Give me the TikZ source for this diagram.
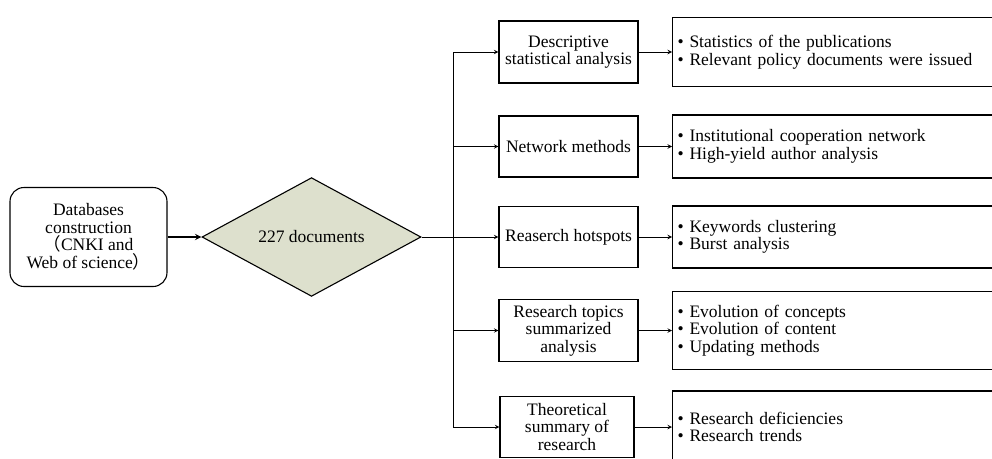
\documentclass[tikz,border=0pt]{standalone}
\usepackage{fontspec}
\setmainfont{Liberation Serif}
\newfontfamily\cjk{Noto Sans CJK SC}
\usepackage{xcolor}
\usetikzlibrary{positioning,shapes.geometric}
\definecolor{docfill}{RGB}{221,224,205}

\begin{document}
\begin{tikzpicture}[
  x=1pt, y=-1pt,
  every node/.style={draw, line width=1.1pt, inner sep=3pt,
    font=\fontsize{17.5pt}{17.5pt}\selectfont},
  dbbox/.style={rounded corners=14pt, align=center,
    minimum width=157pt, minimum height=99pt},
  docs/.style={diamond, fill=docfill, inner sep=0pt,
    minimum width=219pt, minimum height=85pt},
  method/.style={align=center, minimum width=139pt, minimum height=62pt},
  detail/.style={anchor=west, align=left, text width=330pt, inner xsep=5pt},
  arr/.style={->, >=stealth, line width=1pt},
  link/.style={line width=1pt},
]
\useasboundingbox (0,0) rectangle (992,458);

% Left: source and documents
\node (db) [dbbox] at (88.5,237) {Databases\\construction\\{\cjk （}CNKI and\\Web of science{\cjk ）}};
\node (docs) [docs] at (311.5,237) {227 documents};
\draw[arr, line width=1.8pt] (db) -- (docs);

% Trunk
\coordinate (jt) at (453,237);
\coordinate (ttop) at (453,52);
\coordinate (tbot) at (453,427);
\draw[link] (docs) -- (jt);
\draw[link] (ttop) -- (tbot);

% Column 1: methods
\node (desc) [method] at (568.5,52) {Descriptive\\statistical analysis};
\node (net) [method, minimum height=61pt] at (568.5,146.5) {Network methods};
\node (hot) [method, minimum height=61pt] at (568.5,237) {Reaserch hotspots};
\node (topic) [method] at (568.5,330.5) {Research topics\\summarized\\analysis};
\node (theo) [method, minimum width=134pt, minimum height=61pt] at (567,427) {Theoretical\\summary of\\research};
\draw[arr] (ttop) -- (desc);
\draw[arr] (ttop |- net) -- (net);
\draw[arr] (jt) -- (hot);
\draw[arr] (ttop |- topic) -- (topic);
\draw[arr] (tbot) -- (theo);

% Column 2: details
\node (stat) [detail, minimum height=69pt] at (672,52) {\textbullet\ Statistics of the publications\\\textbullet\ Relevant policy documents were issued};
\node (inst) [detail, minimum height=63pt] at (672,146.5) {\textbullet\ Institutional cooperation network\\\textbullet\ High-yield author analysis};
\node (kw) [detail, minimum height=62pt] at (672,237) {\textbullet\ Keywords clustering\\\textbullet\ Burst analysis};
\node (evo) [detail, minimum height=78pt] at (672,330.5) {\textbullet\ Evolution of concepts\\\textbullet\ Evolution of content\\\textbullet\ Updating methods};
\node (res) [detail, minimum height=72pt] at (672,427) {\textbullet\ Research deficiencies\\\textbullet\ Research trends};
\draw[arr] (desc) -- (stat);
\draw[arr] (net) -- (inst);
\draw[arr] (hot) -- (kw);
\draw[arr] (topic) -- (evo);
\draw[arr] (theo) -- (res);

\end{tikzpicture}
\end{document}
